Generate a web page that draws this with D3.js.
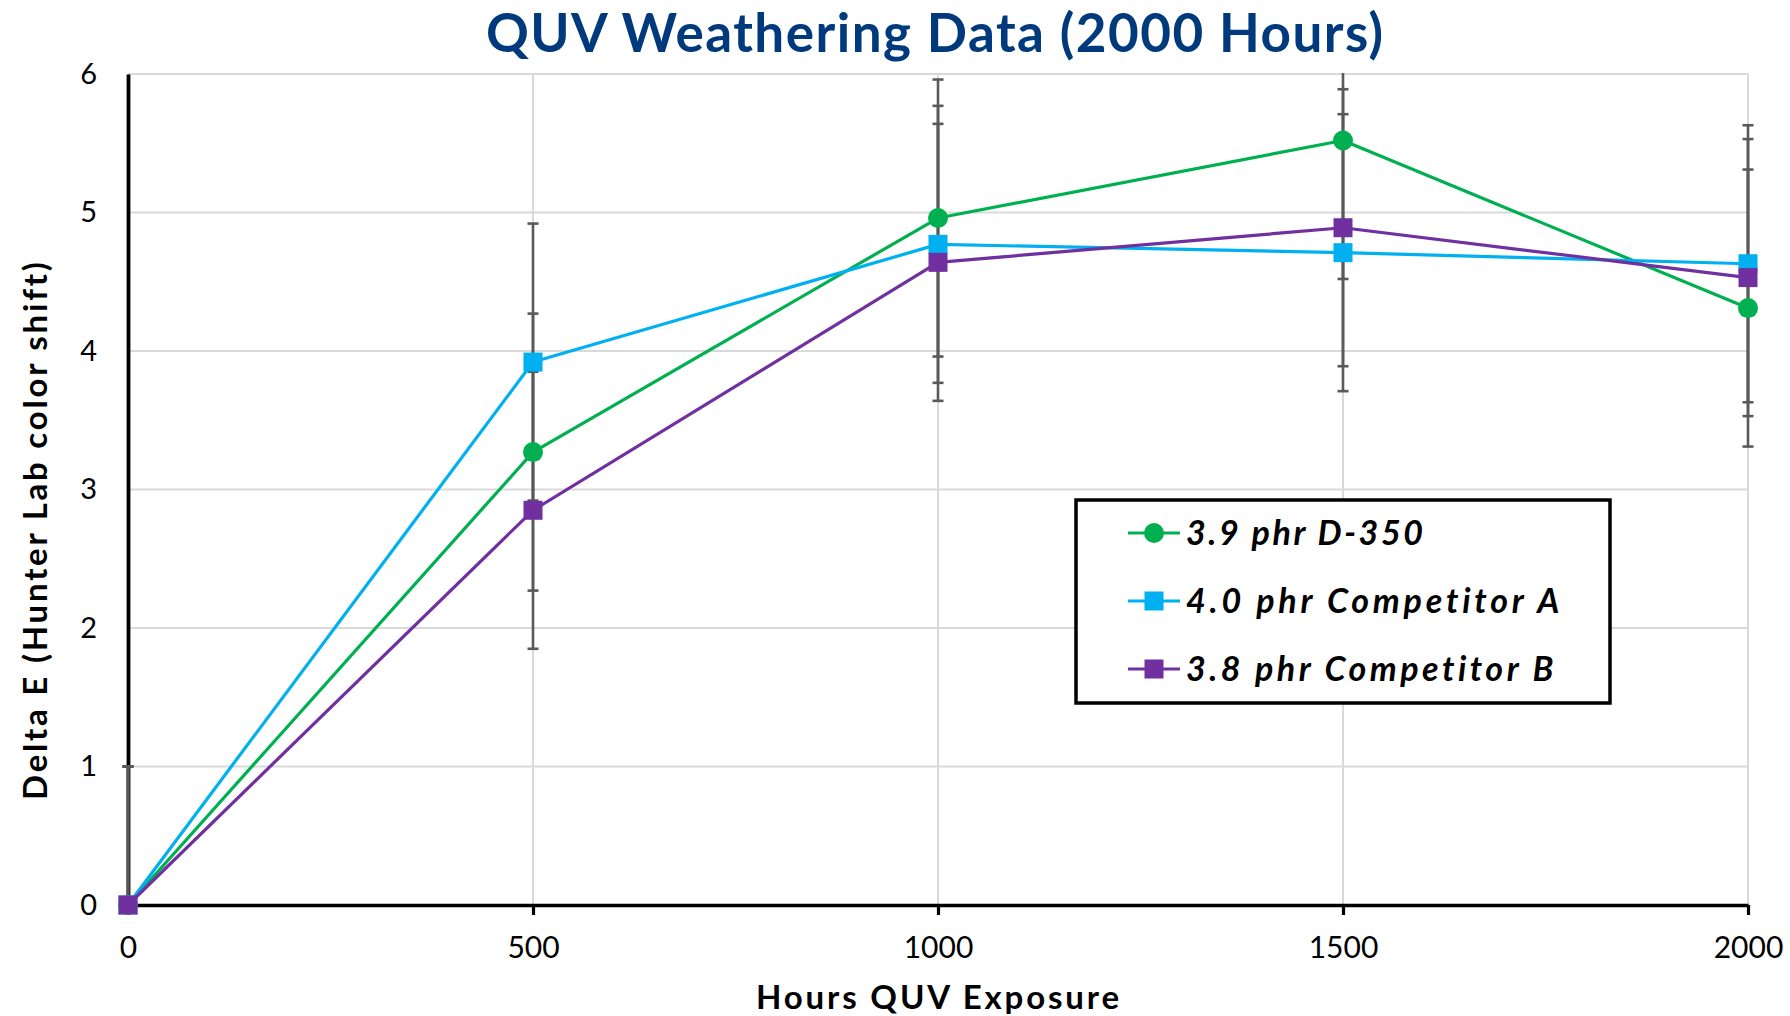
<!DOCTYPE html>
<html>
<head>
<meta charset="utf-8">
<script src="https://cdn.jsdelivr.net/npm/d3@7/dist/d3.min.js"></script>
<style>
  html, body { margin: 0; padding: 0; background: #ffffff; }
  svg { display: block; }
</style>
</head>
<body>
<svg id="chart" width="1790" height="1016"></svg>
<script>
// ---------- data ----------
const hours = [0, 500, 1000, 1500, 2000];
const seriesNames = ["3.9 phr D-350", "4.0 phr Competitor A", "3.8 phr Competitor B"];
const d350Values = [0, 3.27, 4.96, 5.52, 4.31];
const compAValues = [0, 3.92, 4.77, 4.71, 4.63];
const compBValues = [0, 2.85, 4.64, 4.89, 4.53];
const errorAmount = 1.0;
const yTickValues = [0, 1, 2, 3, 4, 5, 6];
const xTickValues = [0, 500, 1000, 1500, 2000];
const titleText = "QUV Weathering Data (2000 Hours)";
const xTitleText = "Hours QUV Exposure";
const yTitleText = "Delta E (Hunter Lab color shift)";

// ---------- styling ----------
const colors = ["#00b050", "#00b0f0", "#7030a0"];
const markerShapes = ["circle", "square", "square"];
const FONT = "Lato, 'DejaVu Sans', sans-serif";

const series = seriesNames.map((name, i) => ({
  name,
  color: colors[i],
  shape: markerShapes[i],
  values: [d350Values, compAValues, compBValues][i].map((v, j) => ({ x: hours[j], y: v }))
}));

const svg = d3.select("#chart");
const W = 1790, H = 1016;
const plot = { left: 128, right: 1748, top: 74, bottom: 905 };

const x = d3.scaleLinear().domain([0, 2000]).range([plot.left, plot.right]);
const y = d3.scaleLinear().domain([0, 6]).range([plot.bottom, plot.top]);

// spread letters so text matches the target width at a fixed font size
function fitSpacing(sel, target) {
  const node = sel.node();
  const w = node.getComputedTextLength();
  const n = sel.text().length;
  if (w > 0 && n > 1) sel.attr("letter-spacing", ((target - w) / (n - 1)).toFixed(2));
}

// gridlines
const grid = svg.append("g");
grid.selectAll("line.h").data(yTickValues.filter(d => d > 0)).join("line")
  .attr("x1", plot.left).attr("x2", plot.right)
  .attr("y1", d => y(d)).attr("y2", d => y(d))
  .attr("stroke", "#d9d9d9").attr("stroke-width", 2);
grid.selectAll("line.v").data(xTickValues.filter(d => d > 0)).join("line")
  .attr("x1", d => x(d)).attr("x2", d => x(d))
  .attr("y1", plot.top).attr("y2", plot.bottom)
  .attr("stroke", "#d9d9d9").attr("stroke-width", 2);

// axes
const xAxis = d3.axisBottom(x).tickValues(xTickValues).tickSizeInner(10).tickSizeOuter(0).tickFormat(d3.format("d"));
const yAxis = d3.axisLeft(y).tickValues(yTickValues).tickSize(0).tickPadding(31).tickFormat(d3.format("d"));

const gx = svg.append("g").attr("transform", `translate(0,${plot.bottom})`).call(xAxis);
gx.select(".domain").attr("stroke", "#000").attr("stroke-width", 3.6);
gx.selectAll(".tick line").attr("stroke", "#000").attr("stroke-width", 3.2);
gx.selectAll("text").attr("font-family", FONT).attr("font-size", 30).attr("fill", "#000")
  .attr("dy", null).attr("y", 53);

const gy = svg.append("g").attr("transform", `translate(${plot.left},0)`).call(yAxis);
gy.select(".domain").attr("stroke", "#000").attr("stroke-width", 3.8);
gy.selectAll("text").attr("font-family", FONT).attr("font-size", 29).attr("fill", "#000");

// clip
svg.append("defs").append("clipPath").attr("id", "plotclip")
  .append("rect").attr("x", 0).attr("y", plot.top - 1).attr("width", W).attr("height", plot.bottom - plot.top + 2);

// error bars
const eb = svg.append("g").attr("clip-path", "url(#plotclip)");
const capHalf = 5.5;
series.forEach(s => {
  s.values.forEach(p => {
    const lo = p.y - errorAmount, hi = p.y + errorAmount;
    const g = eb.append("g").attr("stroke", "#595959").attr("stroke-width", 2.6);
    g.append("line").attr("x1", x(p.x)).attr("x2", x(p.x)).attr("y1", y(lo)).attr("y2", y(hi));
    [lo, hi].forEach(v => {
      g.append("line").attr("x1", x(p.x) - capHalf).attr("x2", x(p.x) + capHalf)
        .attr("y1", y(v)).attr("y2", y(v));
    });
  });
});

// lines and markers
const line = d3.line().x(d => x(d.x)).y(d => y(d.y));
function drawMarker(g, shape, cx, cy, color, size) {
  if (shape === "circle") {
    g.append("circle").attr("cx", cx).attr("cy", cy).attr("r", size / 2).attr("fill", color);
  } else {
    g.append("rect").attr("x", cx - size / 2).attr("y", cy - size / 2)
      .attr("width", size).attr("height", size).attr("fill", color);
  }
}
series.forEach(s => {
  const g = svg.append("g");
  g.append("path").datum(s.values).attr("d", line)
    .attr("fill", "none").attr("stroke", s.color).attr("stroke-width", 3.2).attr("stroke-linejoin", "round");
  s.values.forEach(p => drawMarker(g, s.shape, x(p.x), y(p.y), s.color, s.shape === "circle" ? 20 : 19));
});

// title
const title = svg.append("text").attr("x", 486).attr("y", 52)
  .attr("font-family", FONT).attr("font-weight", "bold").attr("font-size", 53)
  .attr("fill", "#003a7d").text(titleText);
fitSpacing(title, 897);

// x title
const xt = svg.append("text").attr("x", 756).attr("y", 1009)
  .attr("font-family", FONT).attr("font-weight", "bold").attr("font-size", 33)
  .attr("fill", "#000").text(xTitleText);
fitSpacing(xt, 363);

// y title
const yt = svg.append("text").attr("transform", "translate(47,800) rotate(-90)")
  .attr("font-family", FONT).attr("font-weight", "bold").attr("font-size", 33)
  .attr("fill", "#000").text(yTitleText);
fitSpacing(yt, 537);

// legend
const lg = svg.append("g");
lg.append("rect").attr("x", 1076).attr("y", 500).attr("width", 534).attr("height", 203)
  .attr("fill", "#fff").attr("stroke", "#000").attr("stroke-width", 3.5);
const rowY = [533, 601, 669];
const legendWidths = [237, 373, 367];
series.forEach((s, i) => {
  const ry = rowY[i];
  lg.append("line").attr("x1", 1128).attr("x2", 1180).attr("y1", ry).attr("y2", ry)
    .attr("stroke", s.color).attr("stroke-width", 3.2);
  drawMarker(lg, s.shape, 1154, ry, s.color, s.shape === "circle" ? 20 : 19);
  const t = lg.append("text").attr("x", 1186).attr("y", ry + 12)
    .attr("font-family", FONT).attr("font-weight", "bold").attr("font-style", "italic")
    .attr("font-size", 34).attr("fill", "#000").text(s.name);
  fitSpacing(t, legendWidths[i]);
});
</script>
</body>
</html>
